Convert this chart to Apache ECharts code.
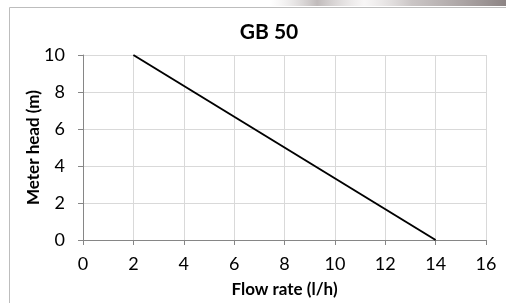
<!DOCTYPE html>
<html><head><meta charset="utf-8">
<script src="https://cdn.jsdelivr.net/npm/echarts@6/dist/echarts.min.js"></script>
<style>html,body{margin:0;padding:0;background:#fff}#c{width:506px;height:303px}</style>
</head><body><div id="c"></div>
<script>
const titleText = "GB 50";
const xAxisName = "Flow rate (l/h)";
const yAxisName = "Meter head (m)";
const flowRate = [2, 14];
const meterHead = [10, 0];

const chart = echarts.init(document.getElementById('c'));
const font = 'Lato, "Open Sans", sans-serif';
chart.setOption({
  animation: false,
  backgroundColor: '#fff',
  graphic: [
    {type: 'rect', shape: {x: 9.5, y: 7.5, width: 520, height: 320}, style: {fill: 'none', stroke: '#bdbdbd', lineWidth: 1}, silent: true},
    {type: 'rect', shape: {x: 270, y: 0, width: 236, height: 6},
     style: {fill: new echarts.graphic.LinearGradient(0, 0, 1, 0, [
       {offset: 0, color: 'rgba(200,195,195,0)'},
       {offset: 0.2, color: 'rgba(140,130,130,0.55)'},
       {offset: 0.4, color: 'rgba(230,225,225,0.3)'},
       {offset: 0.6, color: 'rgba(150,140,140,0.5)'},
       {offset: 1, color: 'rgba(120,110,110,0.85)'}])}, silent: true}
  ],
  title: {text: titleText, left: 264, top: 17, textAlign: 'center',
    textStyle: {fontFamily: font, fontWeight: 'bold', fontSize: 21, color: '#000'}},
  grid: {left: 83, right: 20, top: 55, bottom: 60, containLabel: false},
  xAxis: {type: 'value', min: 0, max: 16, interval: 2,
    name: xAxisName, nameLocation: 'middle', nameGap: 41, nameMoveOverlap: false,
    nameTextStyle: {fontFamily: font, fontWeight: 'bold', fontSize: 17, color: '#000'},
    axisLine: {show: true, lineStyle: {color: '#868686', width: 1}},
    axisTick: {show: true, length: 5, lineStyle: {color: '#868686'}},
    axisLabel: {fontFamily: font, fontSize: 18, color: '#000', margin: 15},
    splitLine: {show: true, lineStyle: {color: '#d9d9d9', width: 1}}},
  yAxis: {type: 'value', min: 0, max: 10, interval: 2,
    name: yAxisName, nameLocation: 'middle', nameGap: 41, nameRotate: 90, nameMoveOverlap: false,
    nameTextStyle: {fontFamily: font, fontWeight: 'bold', fontSize: 17, color: '#000'},
    axisLine: {show: true, lineStyle: {color: '#868686', width: 1}},
    axisTick: {show: true, length: 5, lineStyle: {color: '#868686'}},
    axisLabel: {fontFamily: font, fontSize: 18, color: '#000', margin: 18},
    splitLine: {show: true, lineStyle: {color: '#d9d9d9', width: 1}}},
  series: [{type: 'line', data: flowRate.map((x, i) => [x, meterHead[i]]),
    showSymbol: false, lineStyle: {color: '#000', width: 2}}]
});
</script></body></html>
